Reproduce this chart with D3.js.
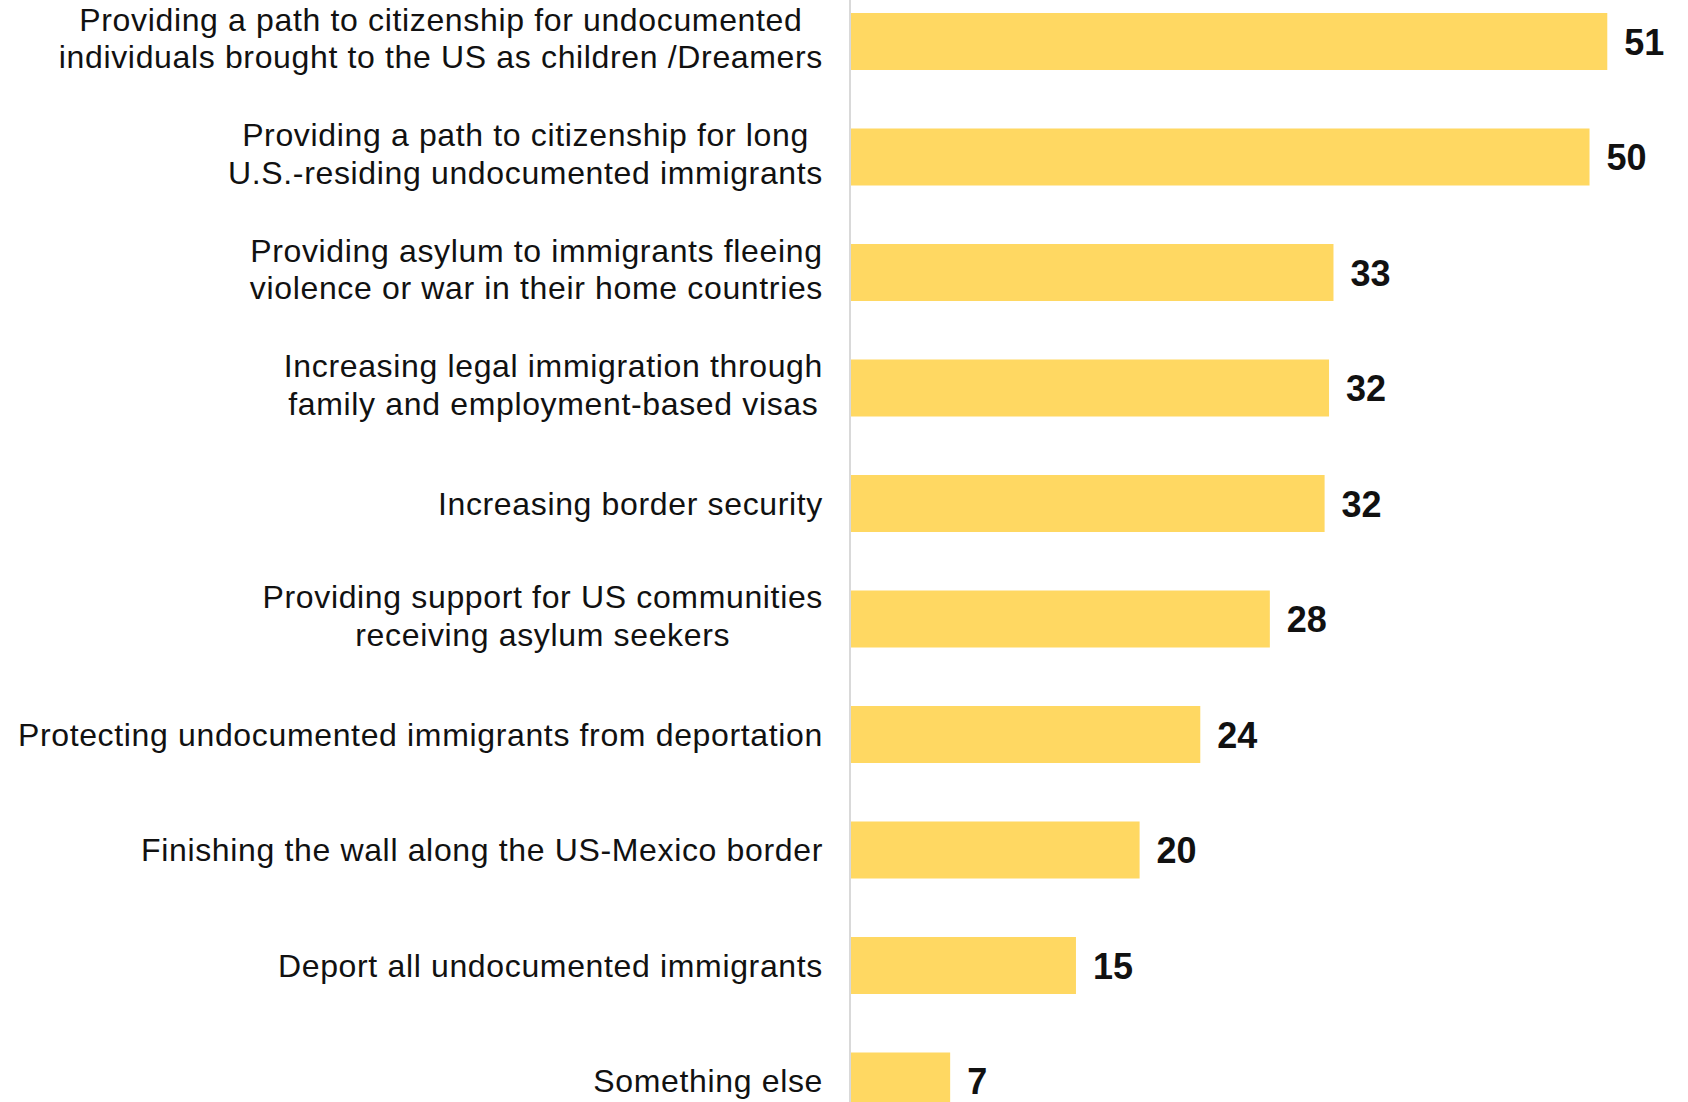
<!DOCTYPE html>
<html>
<head>
<meta charset="utf-8">
<script src="https://cdn.jsdelivr.net/npm/d3@7"></script>
<style>
  html, body { margin: 0; padding: 0; background: #ffffff; }
  svg { display: block; }
</style>
</head>
<body>
<script>
const categories = [
  "Providing a path to citizenship for undocumented\nindividuals brought to the US as children /Dreamers",
  "Providing a path to citizenship for long\nU.S.-residing undocumented immigrants",
  "Providing asylum to immigrants fleeing\nviolence or war in their home countries",
  "Increasing legal immigration through\nfamily and employment-based visas",
  "Increasing border security",
  "Providing support for US communities\nreceiving asylum seekers",
  "Protecting undocumented immigrants from deportation",
  "Finishing the wall along the US-Mexico border",
  "Deport all undocumented immigrants",
  "Something else"
];
const values = [51.1, 49.9, 32.6, 32.3, 32.0, 28.3, 23.6, 19.5, 15.2, 6.7];
const valueLabels = ["51", "50", "33", "32", "32", "28", "24", "20", "15", "7"];

const W = 1688, H = 1102;
const svg = d3.select("body").append("svg").attr("width", W).attr("height", H);

const x = d3.scaleLinear().domain([0, 60]).range([851, 851 + 60 * 14.8]);
const step = 115.5, barH = 57;
const pad = 1 - barH / step;
const y = d3.scaleBand().domain(categories)
  .range([13 - step * pad / 2, 13 - step * pad / 2 + step * categories.length])
  .paddingInner(pad).paddingOuter(pad / 2);

const data = categories.map((c, i) => ({ c, v: values[i], lab: valueLabels[i] }));

svg.append("g").selectAll("rect").data(data).join("rect")
  .attr("x", x(0))
  .attr("y", d => y(d.c))
  .attr("width", d => x(d.v) - x(0))
  .attr("height", y.bandwidth())
  .attr("fill", "#FFD862");

// axis line
svg.append("line")
  .attr("x1", x(0) - 1).attr("x2", x(0) - 1)
  .attr("y1", 0).attr("y2", H)
  .attr("stroke", "#d9d9d9").attr("stroke-width", 2);

svg.append("g").selectAll("text").data(data).join("text")
  .attr("x", d => x(d.v) + 17)
  .attr("y", d => y(d.c) + y.bandwidth() / 2 + 13)
  .attr("font-family", "Liberation Sans, Arial, sans-serif")
  .attr("font-weight", "bold")
  .attr("font-size", 36)
  .attr("fill", "#111")
  .text(d => d.lab);

// category labels
const labelRight = 823;
const lineGap = 37.7;
const lg = svg.append("g").attr("font-family", "Liberation Sans, Arial, sans-serif")
  .attr("font-size", 32).attr("fill", "#111");
data.forEach(d => {
  const lines = d.c.split("\n");
  const cy = y(d.c) + y.bandwidth() / 2;
  const g = lg.append("g");
  const ts = lines.map((ln, i) => g.append("text")
    .attr("y", cy + 11 + (i - (lines.length - 1) / 2) * lineGap - (lines.length > 1 ? 3 : 0))
    .attr("text-anchor", "middle")
    .attr("letter-spacing", 0.65)
    .text(ln));
  const maxW = d3.max(ts, t => t.node().getComputedTextLength());
  ts.forEach(t => t.attr("x", labelRight - maxW / 2));
});
</script>
</body>
</html>
